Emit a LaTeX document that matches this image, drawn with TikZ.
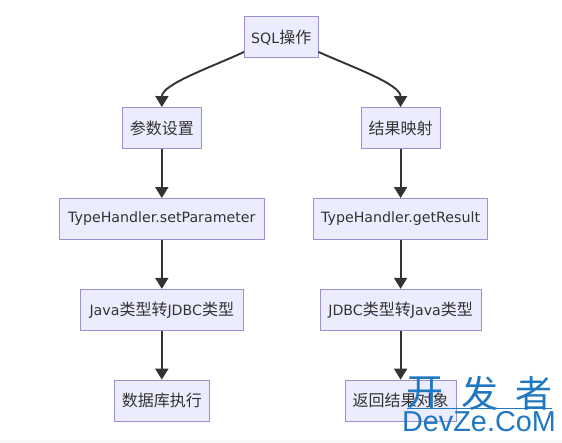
\documentclass[tikz,border=0pt]{standalone}
\usepackage{fontspec}
\setmainfont{DejaVu Sans}
\newfontfamily\cjk{Noto Sans CJK SC}
\newfontfamily\wmlat{Liberation Sans}
\usetikzlibrary{arrows.meta}
\definecolor{boxfill}{HTML}{ECECFF}
\definecolor{boxline}{HTML}{9F8FD0}
\definecolor{edgecol}{HTML}{333333}
\definecolor{wm}{HTML}{1F78C1}
\tikzset{
  flowbox/.style={draw=boxline,fill=boxfill,line width=0.9pt,inner sep=0pt,minimum height=41pt,text=edgecol,anchor=center},
  flow/.style={draw=edgecol,line width=1.9pt,-{Triangle[length=11pt,width=13pt]}},
  wmtext/.style={text=wm,inner sep=0pt,anchor=center}
}
\newcommand{\zh}[1]{{\cjk\fontsize{16}{18}\selectfont #1}}
\begin{document}
\begin{tikzpicture}[x=1pt,y=-1pt]
\useasboundingbox (0,0) rectangle (562,443);
\fill[white] (0,0) rectangle (562,443);
\fill[black!3] (0,440) rectangle (562,443);
\begin{scope}[every node/.style={font=\fontsize{14.2}{16}\selectfont}]
\node[flowbox,minimum width=73.5pt] (sql) at (281.2,37.3) {SQL\zh{操作}};
\node[flowbox,minimum width=79.5pt] (param) at (161.8,128) {\zh{参数设置}};
\node[flowbox,minimum width=79pt] (map) at (400.6,128) {\zh{结果映射}};
\node[flowbox,minimum width=204.5pt] (seth) at (161.8,219) {\raisebox{-1.5pt}{TypeHandler.setParameter}};
\node[flowbox,minimum width=174.5pt] (geth) at (400.6,219) {\raisebox{-1.5pt}{TypeHandler.getResult}};
\node[flowbox,minimum width=163.7pt] (j2d) at (161.8,309.8) {Java\zh{类型转}JDBC\zh{类型}};
\node[flowbox,minimum width=161pt] (d2j) at (400.6,309.8) {JDBC\zh{类型转}Java\zh{类型}};
\node[flowbox,minimum width=95.4pt] (exec) at (161.8,400.6) {\zh{数据库执行}};
\node[flowbox,minimum width=111pt] (ret) at (400.6,400.6) {\zh{返回结果对象}};
\end{scope}
\draw[flow] ([yshift=6.3pt]sql.south west) .. controls (212,67) and (162,84) .. (param.north);
\draw[flow] ([yshift=6.3pt]sql.south east) .. controls (352,67) and (400.6,84) .. (map.north);
\draw[flow] (param) -- (seth);
\draw[flow] (seth) -- (j2d);
\draw[flow] (j2d) -- (exec);
\draw[flow] (map) -- (geth);
\draw[flow] (geth) -- (d2j);
\draw[flow] (d2j) -- (ret);
\node[wmtext,font=\cjk\fontsize{37}{40}\selectfont] (w1) at (424.5,393) {开};
\node[wmtext,font=\cjk\fontsize{37}{40}\selectfont] (w2) at (480,393) {发};
\node[wmtext,font=\cjk\fontsize{37}{40}\selectfont] (w3) at (533.5,393) {者};
\node[wmtext,font=\wmlat\fontsize{28.8}{32}\selectfont] (w4) at (479,421.5) {DevZe.CoM};
\draw[wm,line width=0.6pt] (407,408.5) -- (552,408.5);
\end{tikzpicture}
\end{document}
